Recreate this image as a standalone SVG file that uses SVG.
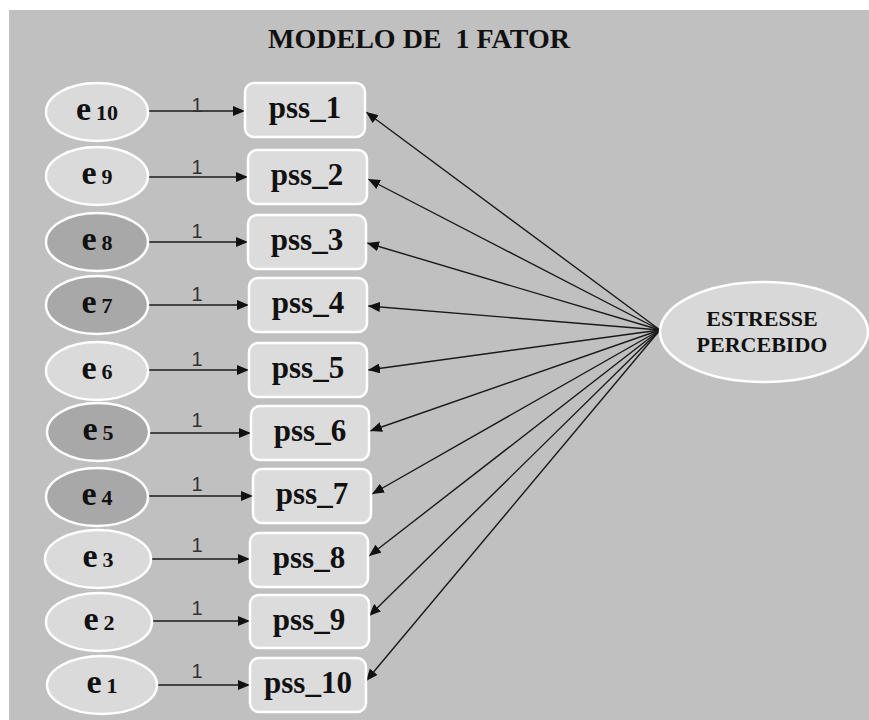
<svg xmlns="http://www.w3.org/2000/svg" width="869" height="720" viewBox="0 0 869 720">
  <defs>
    <marker id="arrow" viewBox="0 0 12 10" refX="12" refY="5" markerWidth="12" markerHeight="10" markerUnits="userSpaceOnUse" orient="auto">
      <path d="M0,0 L12,5 L0,10 Z" fill="#111"/>
    </marker>
    <style>
      .err { stroke: #ffffff; stroke-width: 2.5; }
      .light { fill: #dadada; }
      .dark { fill: #a8a8a8; }
      .item { fill: #dcdcdc; stroke: #ffffff; stroke-width: 2.5; }
      .serif { font-family: "Liberation Serif", "Times New Roman", serif; font-weight: bold; fill: #111; }
      .elab { text-anchor: middle; }
      .ilab { font-size: 31px; text-anchor: middle; }
      .one { font-family: "Liberation Sans", Arial, sans-serif; font-size: 20px; fill: #333; text-anchor: middle; }
      .edge { stroke: #1a1a1a; stroke-width: 1.4; fill: none; marker-end: url(#arrow); }
    </style>
  </defs>

  <!-- page and panel -->
  <rect x="0" y="0" width="869" height="720" fill="#ffffff"/>
  <rect x="9" y="10" width="860" height="710" fill="#c0c0c0"/>

  <text class="serif" x="419" y="48" font-size="28" text-anchor="middle" xml:space="preserve">MODELO DE  1 FATOR</text>

  <!-- connectors -->
  <g id="connectors">
    <!-- error terms to items -->
    <line class="edge" x1="148" y1="111" x2="245" y2="111"/>
    <line class="edge" x1="148" y1="177" x2="248" y2="177"/>
    <line class="edge" x1="147" y1="242" x2="248" y2="242"/>
    <line class="edge" x1="147" y1="305" x2="249" y2="305"/>
    <line class="edge" x1="147" y1="370" x2="249" y2="370"/>
    <line class="edge" x1="148" y1="433" x2="251" y2="433"/>
    <line class="edge" x1="147" y1="496" x2="253" y2="496"/>
    <line class="edge" x1="151" y1="559" x2="250" y2="559"/>
    <line class="edge" x1="152" y1="621" x2="250" y2="621"/>
    <line class="edge" x1="157" y1="685" x2="250" y2="685"/>
    <!-- factor loadings -->
    <line class="edge" x1="660" y1="330" x2="366" y2="112"/>
    <line class="edge" x1="660" y1="330" x2="368" y2="179"/>
    <line class="edge" x1="660" y1="330" x2="367" y2="243"/>
    <line class="edge" x1="660" y1="330" x2="368" y2="306"/>
    <line class="edge" x1="660" y1="330" x2="368" y2="370"/>
    <line class="edge" x1="660" y1="330" x2="370" y2="431"/>
    <line class="edge" x1="660" y1="330" x2="372" y2="494"/>
    <line class="edge" x1="660" y1="330" x2="369" y2="556"/>
    <line class="edge" x1="660" y1="330" x2="369" y2="616"/>
    <line class="edge" x1="660" y1="330" x2="366" y2="681"/>
    <!-- fixed path weights -->
    <text class="one" x="197" y="112">1</text>
    <text class="one" x="197" y="174">1</text>
    <text class="one" x="197" y="238">1</text>
    <text class="one" x="197" y="301">1</text>
    <text class="one" x="197" y="366">1</text>
    <text class="one" x="197" y="427">1</text>
    <text class="one" x="197" y="491">1</text>
    <text class="one" x="197" y="552">1</text>
    <text class="one" x="197" y="615">1</text>
    <text class="one" x="197" y="678">1</text>
  </g>

  <!-- error terms -->
  <g id="e10"><ellipse class="err light" cx="97" cy="112" rx="51" ry="29"/><text class="serif elab" x="97" y="120"><tspan font-size="34">e</tspan><tspan font-size="22" dx="5">10</tspan></text></g>
  <g id="e9"><ellipse class="err light" cx="97" cy="176" rx="51" ry="29"/><text class="serif elab" x="97" y="184"><tspan font-size="34">e</tspan><tspan font-size="22" dx="5">9</tspan></text></g>
  <g id="e8"><ellipse class="err dark" cx="97" cy="242" rx="51" ry="29"/><text class="serif elab" x="97" y="250"><tspan font-size="34">e</tspan><tspan font-size="22" dx="5">8</tspan></text></g>
  <g id="e7"><ellipse class="err dark" cx="97" cy="305" rx="51" ry="29"/><text class="serif elab" x="97" y="313"><tspan font-size="34">e</tspan><tspan font-size="22" dx="5">7</tspan></text></g>
  <g id="e6"><ellipse class="err light" cx="97" cy="371" rx="51" ry="29"/><text class="serif elab" x="97" y="379"><tspan font-size="34">e</tspan><tspan font-size="22" dx="5">6</tspan></text></g>
  <g id="e5"><ellipse class="err dark" cx="98" cy="432" rx="51" ry="29"/><text class="serif elab" x="98" y="440"><tspan font-size="34">e</tspan><tspan font-size="22" dx="5">5</tspan></text></g>
  <g id="e4"><ellipse class="err dark" cx="97" cy="497" rx="51" ry="29"/><text class="serif elab" x="97" y="505"><tspan font-size="34">e</tspan><tspan font-size="22" dx="5">4</tspan></text></g>
  <g id="e3"><ellipse class="err light" cx="98" cy="559" rx="53" ry="29"/><text class="serif elab" x="98" y="567"><tspan font-size="34">e</tspan><tspan font-size="22" dx="5">3</tspan></text></g>
  <g id="e2"><ellipse class="err light" cx="99" cy="622" rx="53" ry="29"/><text class="serif elab" x="99" y="630"><tspan font-size="34">e</tspan><tspan font-size="22" dx="5">2</tspan></text></g>
  <g id="e1"><ellipse class="err light" cx="102" cy="685" rx="55" ry="29"/><text class="serif elab" x="102" y="693"><tspan font-size="34">e</tspan><tspan font-size="22" dx="5">1</tspan></text></g>

  <!-- observed items -->
  <g id="pss_1"><rect class="item" x="245" y="83" width="120" height="54" rx="9"/><text class="serif ilab" x="305" y="118">pss_1</text></g>
  <g id="pss_2"><rect class="item" x="248" y="150" width="119" height="54" rx="9"/><text class="serif ilab" x="307" y="185">pss_2</text></g>
  <g id="pss_3"><rect class="item" x="248" y="215" width="118" height="54" rx="9"/><text class="serif ilab" x="307" y="250">pss_3</text></g>
  <g id="pss_4"><rect class="item" x="249" y="278" width="118" height="54" rx="9"/><text class="serif ilab" x="308" y="313">pss_4</text></g>
  <g id="pss_5"><rect class="item" x="249" y="343" width="118" height="54" rx="9"/><text class="serif ilab" x="308" y="378">pss_5</text></g>
  <g id="pss_6"><rect class="item" x="251" y="406" width="118" height="54" rx="9"/><text class="serif ilab" x="310" y="441">pss_6</text></g>
  <g id="pss_7"><rect class="item" x="253" y="469" width="118" height="54" rx="9"/><text class="serif ilab" x="312" y="504">pss_7</text></g>
  <g id="pss_8"><rect class="item" x="250" y="533" width="118" height="54" rx="9"/><text class="serif ilab" x="309" y="568">pss_8</text></g>
  <g id="pss_9"><rect class="item" x="250" y="595" width="119" height="53" rx="9"/><text class="serif ilab" x="309" y="630">pss_9</text></g>
  <g id="pss_10"><rect class="item" x="250" y="658" width="116" height="54" rx="9"/><text class="serif ilab" x="308" y="693">pss_10</text></g>

  <!-- latent factor -->
  <g id="estresse">
    <ellipse cx="764" cy="332" rx="104" ry="50" fill="#d8d8d8" stroke="#ffffff" stroke-width="2.5"/>
    <text class="serif" x="762" y="326" font-size="22" text-anchor="middle">ESTRESSE</text>
    <text class="serif" x="762" y="352" font-size="22" text-anchor="middle">PERCEBIDO</text>
  </g>
</svg>
